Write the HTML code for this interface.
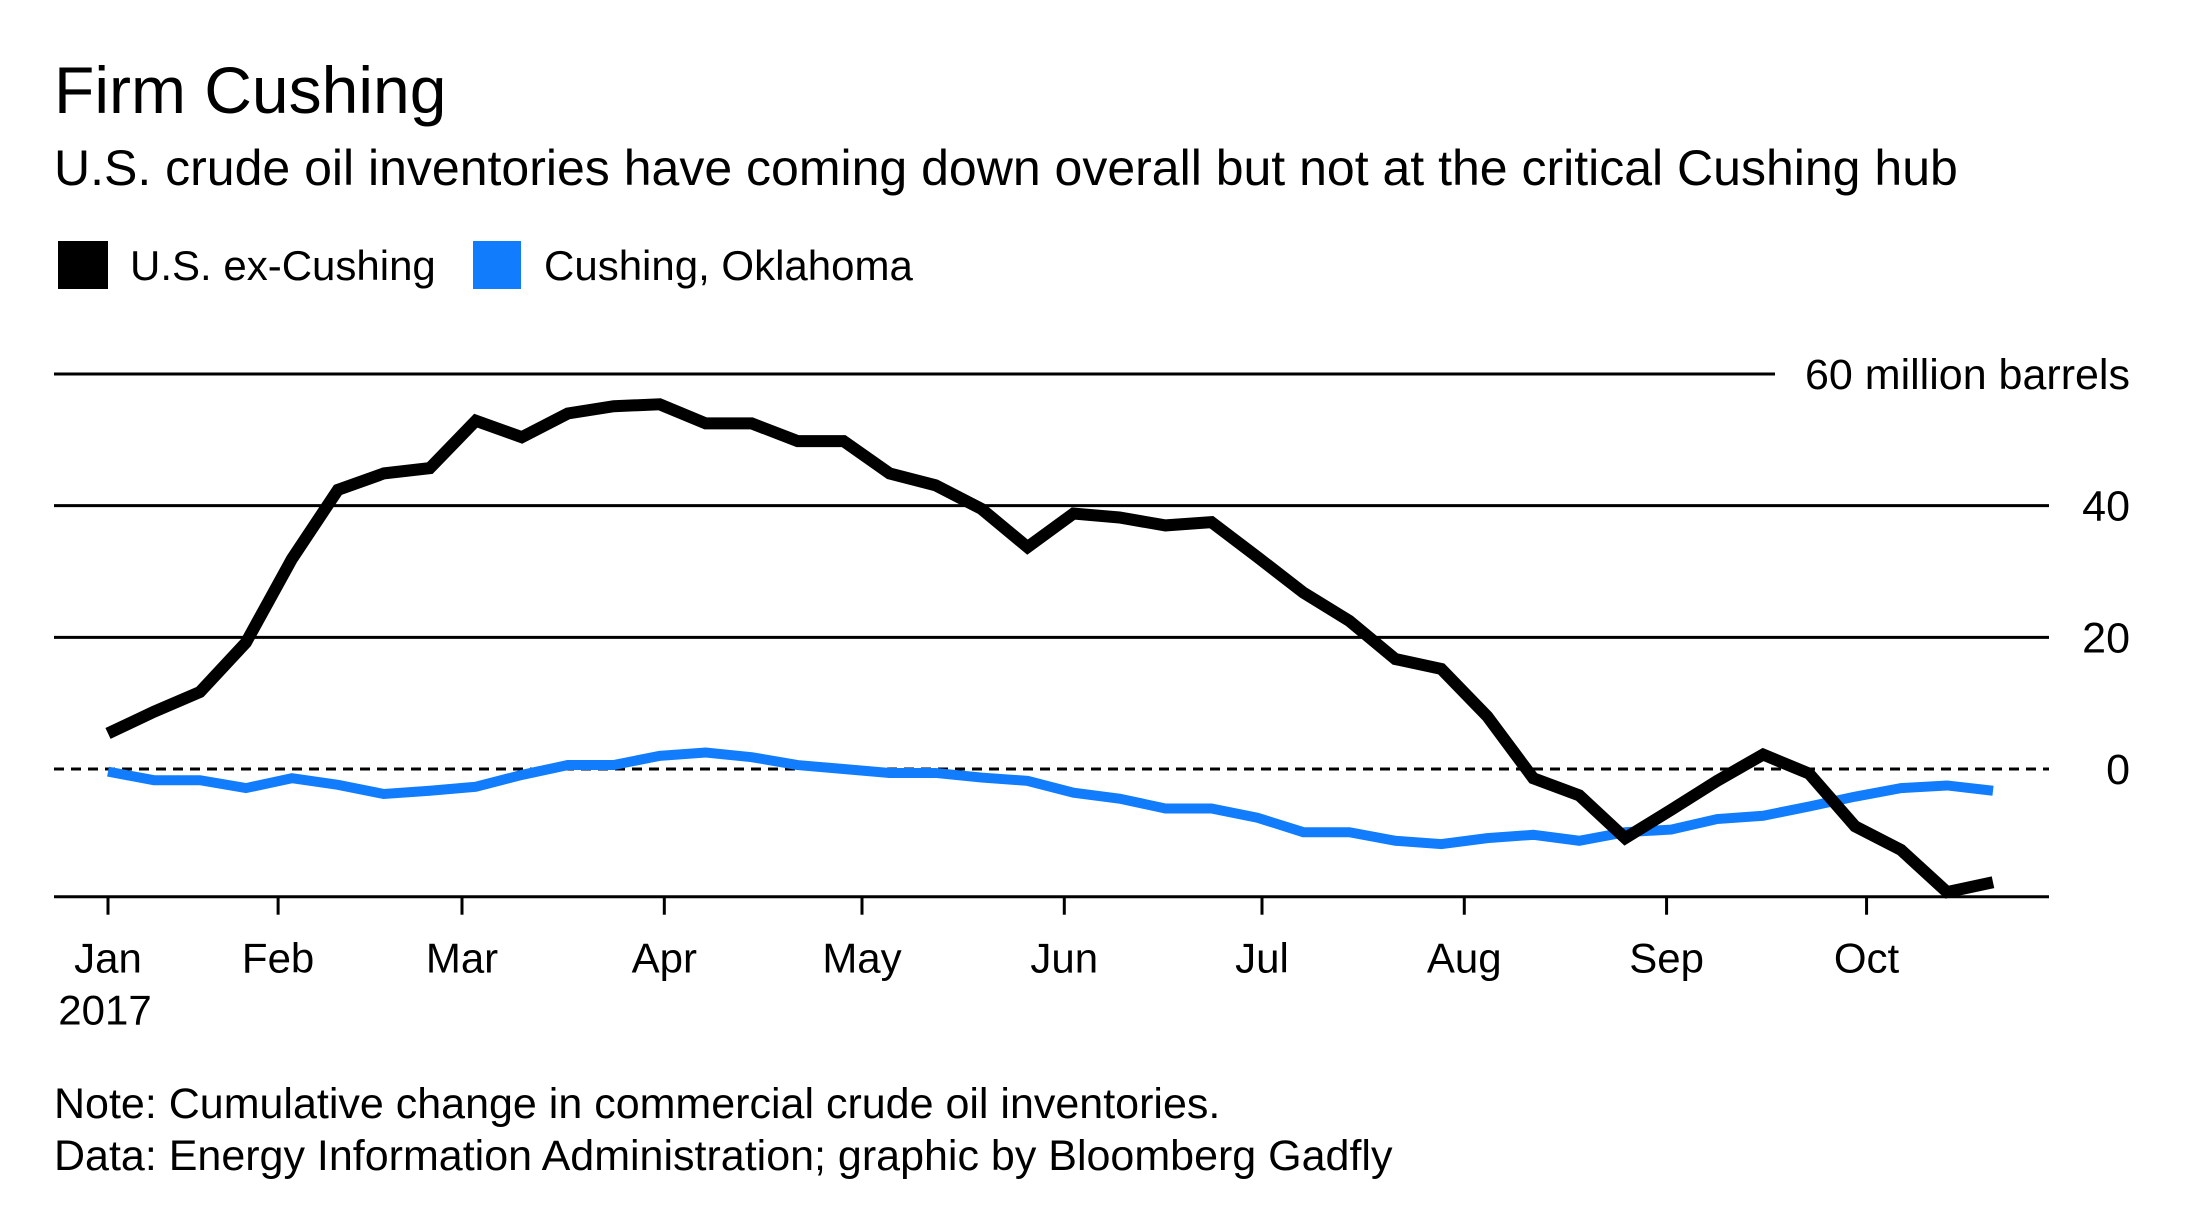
<!DOCTYPE html>
<html><head><meta charset="utf-8"><style>
html,body{margin:0;padding:0;background:#fff;}
svg{display:block;font-family:"Liberation Sans",Arial,sans-serif;}
</style></head><body>
<svg id="chart" width="2200" height="1217" viewBox="0 0 2200 1217">
<text x="54" y="113" font-size="66" fill="#000">Firm Cushing</text>
<text x="54" y="185" font-size="50" fill="#000">U.S. crude oil inventories have coming down overall but not at the critical Cushing hub</text>
<g>
<rect x="58" y="241" width="50" height="48" fill="#000"/>
<text x="130" y="280" font-size="42">U.S. ex-Cushing</text>
<rect x="473" y="241" width="48" height="48" fill="#127dfc"/>
<text x="544" y="280" font-size="42">Cushing, Oklahoma</text>
</g>
<g id="grid"></g>
<g id="xaxis"></g>
<g id="series"></g>
<text x="54" y="1118" font-size="43">Note: Cumulative change in commercial crude oil inventories.</text>
<text x="54" y="1170" font-size="43">Data: Energy Information Administration; graphic by Bloomberg Gadfly</text>
</svg>
<script>
const usExCushing = [5.4,8.7,11.7,19.2,31.9,42.4,44.9,45.7,52.9,50.4,54,55.1,55.4,52.5,52.5,49.8,49.8,44.9,43.1,39.5,33.7,38.8,38.2,37,37.5,32.2,26.8,22.5,16.7,15.2,8,-1.4,-4,-10.5,-6.2,-1.8,2.2,-0.7,-8.7,-12.3,-18.7,-17.2];
const cushing = [-0.4,-1.7,-1.7,-2.9,-1.4,-2.4,-3.8,-3.3,-2.7,-0.9,0.6,0.6,2.0,2.5,1.8,0.6,0,-0.6,-0.6,-1.3,-1.8,-3.6,-4.5,-6,-6,-7.4,-9.6,-9.6,-10.9,-11.4,-10.5,-10,-10.9,-9.6,-9.2,-7.6,-7.1,-5.7,-4.2,-2.9,-2.5,-3.3];
const yTicks = [0,20,40,60];
const yTickLabels = ["0","20","40","60 million barrels"];
const monthLabels = ["Jan","Feb","Mar","Apr","May","Jun","Jul","Aug","Sep","Oct"];
const monthWeek = [0,3.7,7.7,12.1,16.4,20.8,25.1,29.5,33.9,38.25];
const yMin = -19.4, yMax = 60;

const NS="http://www.w3.org/2000/svg";
const X0=108, X1=1993, Y0=769, Y60=374;
function x(w){return X0+(X1-X0)*w/(usExCushing.length-1);}
function y(v){return Y0-(Y0-Y60)*v/60;}
function mk(tag,attrs,parent){const e=document.createElementNS(NS,tag);for(const k in attrs)e.setAttribute(k,attrs[k]);parent.appendChild(e);return e;}
const grid=document.getElementById('grid'),xa=document.getElementById('xaxis'),ser=document.getElementById('series');
yTicks.forEach((t,i)=>{
  const top=t===60;
  const ln=mk('line',{x1:54,x2:top?1775:2049,y1:y(t),y2:y(t),stroke:'#000','stroke-width':3},grid);
  if(t===0)ln.setAttribute('stroke-dasharray','10,7');
  
  
  const tx=mk('text',{x:2130,y:y(t)+15,'font-size':43,'text-anchor':'end'},grid);
  tx.textContent=yTickLabels[i];
  
  
});
const base=y(yMin);
const ax=mk('line',{x1:54,x2:2049,y1:base,y2:base,stroke:'#000','stroke-width':3},xa);


monthLabels.forEach((m,i)=>{
  const xx=x(monthWeek[i]);
  const tk=mk('line',{x1:xx,x2:xx,y1:base,y2:base+18,stroke:'#000','stroke-width':3},xa);
  
  
  const tx=mk('text',{x:xx,y:base+76,'font-size':42,'text-anchor':'middle'},xa);
  tx.textContent=m;
  
  
});
const yr=mk('text',{x:x(0)-3,y:base+128,'font-size':42,'text-anchor':'middle'},xa);
yr.textContent='2017';


function line(data,color,w,name){
  const p=mk('polyline',{points:data.map((v,i)=>x(i)+','+y(v)).join(' '),fill:'none',stroke:color,'stroke-width':w,'stroke-linejoin':'miter','stroke-miterlimit':3},ser);
  
  
}
line(cushing,'#127dfc',10,'line-cushing');
line(usExCushing,'#000',12,'line-us-ex-cushing');
</script>
</body></html>
